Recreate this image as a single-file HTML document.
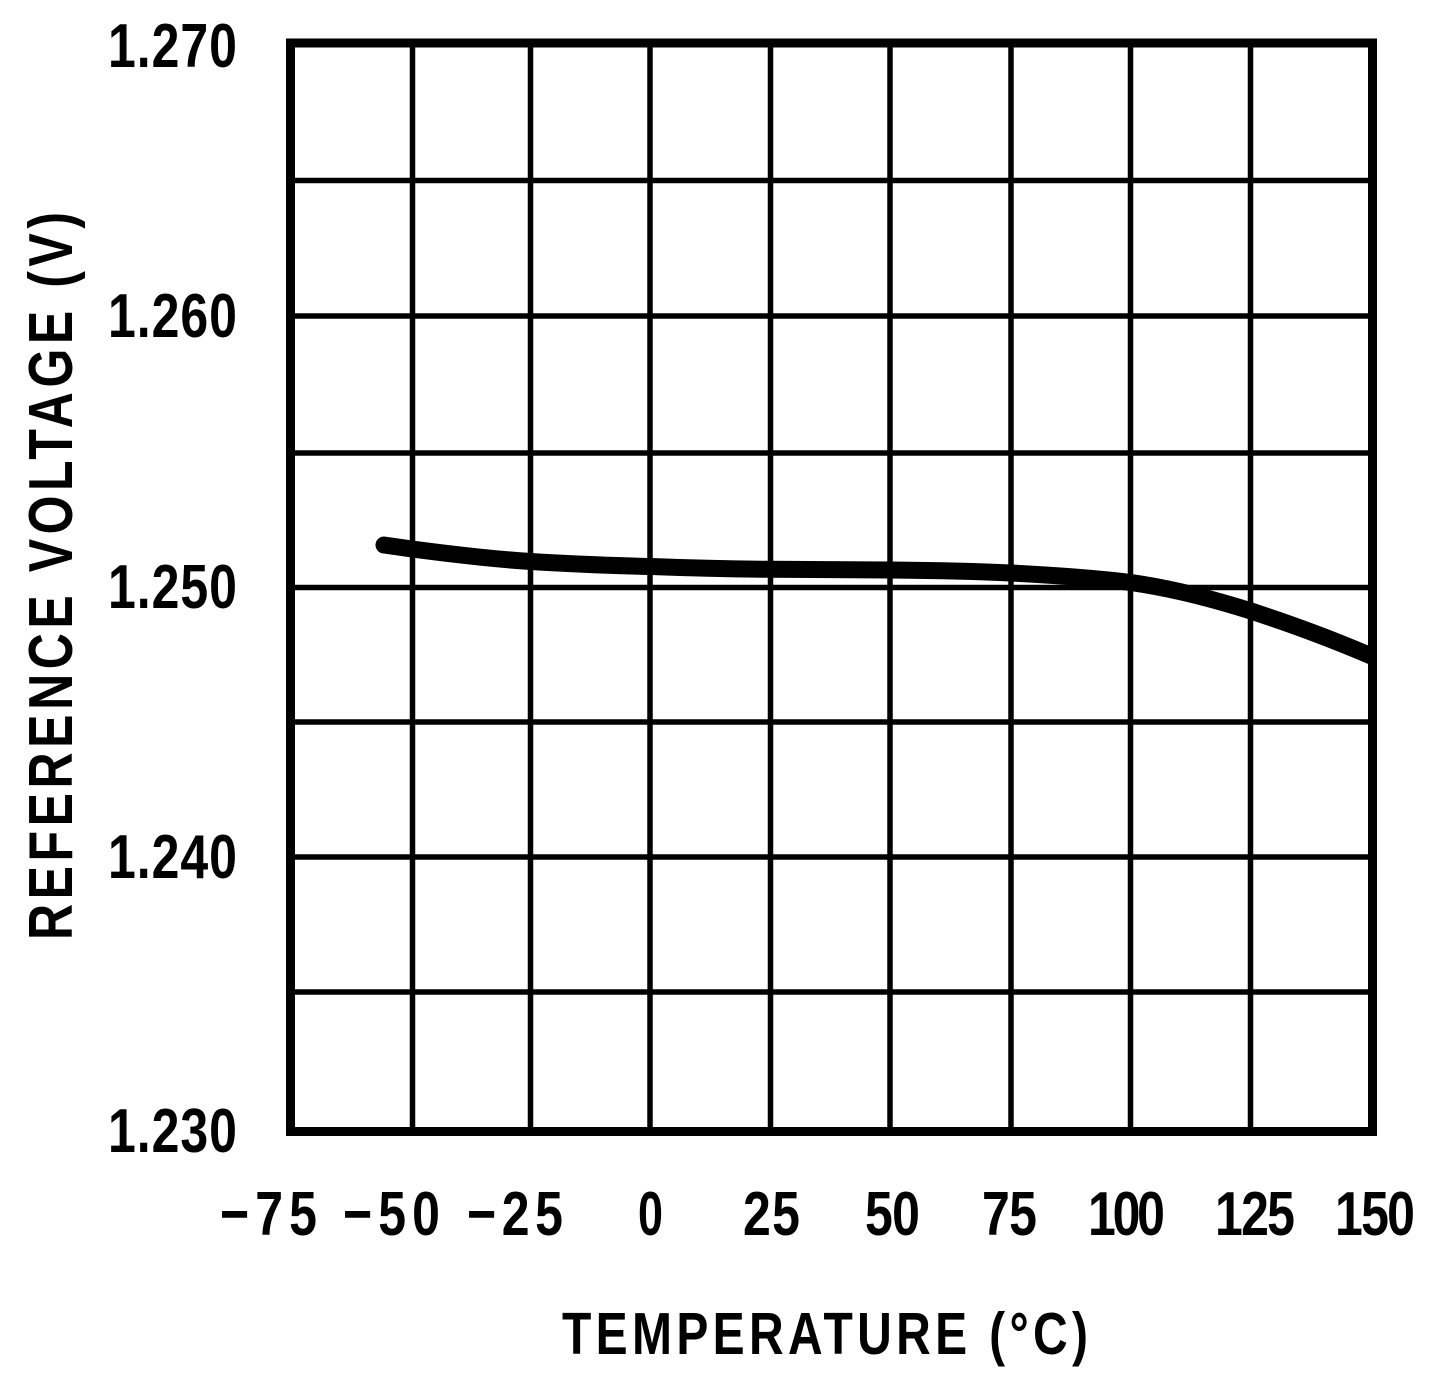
<!DOCTYPE html>
<html>
<head>
<meta charset="utf-8">
<style>
  html, body { margin: 0; padding: 0; background: #fff; }
  svg { display: block; }
  text { font-family: "Liberation Sans", "DejaVu Sans", sans-serif; font-weight: bold; fill: #000; }
</style>
</head>
<body>
<svg width="1439" height="1390" viewBox="0 0 1439 1390" xmlns="http://www.w3.org/2000/svg">
  <rect x="0" y="0" width="1439" height="1390" fill="#fff"/>

  <!-- grid -->
  <g stroke="#000" stroke-width="5.5" fill="none">
    <line x1="412.5" y1="43" x2="412.5" y2="1131"/>
    <line x1="530.5" y1="43" x2="530.5" y2="1131"/>
    <line x1="650" y1="43" x2="650" y2="1131"/>
    <line x1="770.5" y1="43" x2="770.5" y2="1131"/>
    <line x1="890" y1="43" x2="890" y2="1131"/>
    <line x1="1011" y1="43" x2="1011" y2="1131"/>
    <line x1="1130.5" y1="43" x2="1130.5" y2="1131"/>
    <line x1="1250.5" y1="43" x2="1250.5" y2="1131"/>

    <line x1="290" y1="180.5" x2="1372" y2="180.5"/>
    <line x1="290" y1="316" x2="1372" y2="316"/>
    <line x1="290" y1="453" x2="1372" y2="453"/>
    <line x1="290" y1="587.5" x2="1372" y2="587.5"/>
    <line x1="290" y1="722" x2="1372" y2="722"/>
    <line x1="290" y1="857" x2="1372" y2="857"/>
    <line x1="290" y1="992" x2="1372" y2="992"/>
  </g>

  <!-- curve -->
  <defs>
    <clipPath id="pc"><rect x="290" y="43" width="1082" height="1088"/></clipPath>
  </defs>
  <path clip-path="url(#pc)" d="M384,545 C395,546.5 405,548 412,549 C450,554 490,559 531,561.5 C570,564 610,565.5 651,566.5 C690,568 730,569 771,569.3 C810,569.6 850,569.6 891,570 C930,570.4 970,571 1011,573 C1050,575 1090,577.5 1131,582.5 C1170,588 1210,598 1251,611 C1290,624 1330,638 1378,659"
        fill="none" stroke="#000" stroke-width="17" stroke-linecap="round" stroke-linejoin="round"/>

  <!-- frame -->
  <rect x="290.5" y="43" width="1082" height="1088.5" fill="none" stroke="#000" stroke-width="9"/>

  <!-- y tick labels -->
  <g font-size="50">
    <text transform="translate(108,67) scale(1,1.24)" textLength="129" lengthAdjust="spacing">1.270</text>
    <text transform="translate(108,337) scale(1,1.24)" textLength="129" lengthAdjust="spacing">1.260</text>
    <text transform="translate(108,608) scale(1,1.24)" textLength="129" lengthAdjust="spacing">1.250</text>
    <text transform="translate(108,878) scale(1,1.24)" textLength="129" lengthAdjust="spacing">1.240</text>
    <text transform="translate(108,1152) scale(1,1.24)" textLength="129" lengthAdjust="spacing">1.230</text>
  </g>

  <!-- x tick labels -->
  <g font-size="50">
    <text transform="translate(220,1235) scale(1,1.24)" textLength="97" lengthAdjust="spacing">−75</text>
    <text transform="translate(343,1235) scale(1,1.24)" textLength="97" lengthAdjust="spacing">−50</text>
    <text transform="translate(467,1235) scale(1,1.24)" textLength="96" lengthAdjust="spacing">−25</text>
    <text transform="translate(638,1235) scale(1,1.24)" textLength="25" lengthAdjust="spacingAndGlyphs">0</text>
    <text transform="translate(743,1235) scale(1,1.24)" textLength="57" lengthAdjust="spacing">25</text>
    <text transform="translate(865,1235) scale(1,1.24)" textLength="55" lengthAdjust="spacing">50</text>
    <text transform="translate(982,1235) scale(1,1.24)" textLength="55" lengthAdjust="spacing">75</text>
    <text transform="translate(1088,1235) scale(1,1.24)" textLength="77" lengthAdjust="spacing">100</text>
    <text transform="translate(1215,1235) scale(1,1.24)" textLength="80" lengthAdjust="spacing">125</text>
    <text transform="translate(1335,1235) scale(1,1.24)" textLength="80" lengthAdjust="spacing">150</text>
  </g>

  <!-- axis titles -->
  <text transform="translate(562,1354) scale(1,1.24)" font-size="48" textLength="526" lengthAdjust="spacing">TEMPERATURE (°C)</text>
  <text transform="translate(72,940) rotate(-90) scale(1,1.24)" font-size="50" textLength="728" lengthAdjust="spacing">REFERENCE VOLTAGE (V)</text>
</svg>
</body>
</html>
